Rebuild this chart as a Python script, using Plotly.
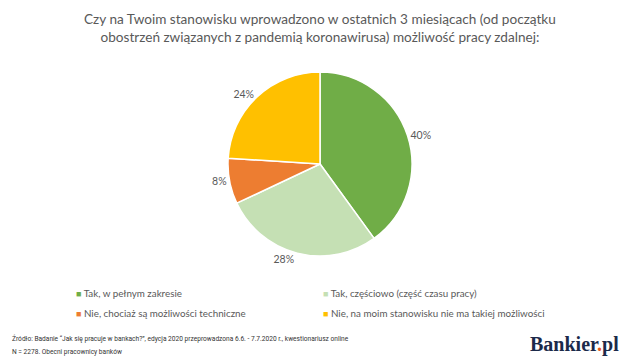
import plotly.graph_objects as go

categories = ["Tak, w pełnym zakresie", "Tak, częściowo (część czasu pracy)",
              "Nie, chociaż są możliwości techniczne", "Nie, na moim stanowisku nie ma takiej możliwości"]
values = [40, 28, 8, 24]
colors = ["#70AD47", "#C5E0B4", "#ED7D31", "#FFC000"]

title = ("Czy na Twoim stanowisku wprowadzono w ostatnich 3 miesiącach (od początku<br>"
         "obostrzeń związanych z pandemią koronawirusa) możliwość pracy zdalnej:")
source1 = "Źródło: Badanie “Jak się pracuje w bankach?”, edycja 2020 przeprowadzona 6.6. - 7.7.2020 r., kwestionariusz online"
source2 = "N = 2278. Obecni pracownicy banków"

W, H = 640, 361
cx, cy, r = 320, 164, 92

fig = go.Figure(go.Pie(
    labels=categories, values=values, sort=False, direction="clockwise", rotation=0,
    marker=dict(colors=colors, line=dict(color="white", width=1.5)),
    texttemplate="%{value}%", textposition="outside",
    textfont=dict(size=10.5, color="#595959", family="Lato"),
    domain=dict(x=[(cx - r) / W, (cx + r) / W], y=[(H - cy - r) / H, (H - cy + r) / H]),
    hoverinfo="label+percent", showlegend=False,
))

annotations = [
    dict(text=title, x=0.5, y=(H - 9) / H, xref="paper", yref="paper", xanchor="center",
         yanchor="top", showarrow=False, font=dict(size=13.6, color="#595959", family="Lato")),
    dict(text=source1, x=10 / W, y=(H - 338) / H, xref="paper", yref="paper", xanchor="left",
         yanchor="middle", showarrow=False, font=dict(size=6.6, color="#333333", family="Roboto")),
    dict(text=source2, x=10 / W, y=(H - 352) / H, xref="paper", yref="paper", xanchor="left",
         yanchor="middle", showarrow=False, font=dict(size=6.6, color="#333333", family="Roboto")),
    dict(text="<b>Bankier<span style='color:#E8591A'>.</span>pl</b>", x=621 / W, y=(H - 344) / H,
         xref="paper", yref="paper", xanchor="right", yanchor="middle", showarrow=False,
         font=dict(size=20, color="#1B2A4A", family="Liberation Serif")),
]

# legend (two columns) built from categories / colors
leg_x = [74, 321]
leg_y = [293, 313]
for i, (cat, col) in enumerate(zip(categories, colors)):
    px = leg_x[i % 2]
    py = leg_y[i // 2]
    annotations.append(dict(
        text=f"<span style='color:{col};font-size:9px'>■</span> {cat}",
        x=px / W, y=(H - py) / H, xref="paper", yref="paper", xanchor="left", yanchor="middle",
        showarrow=False, font=dict(size=9.8, color="#595959", family="Lato")))

fig.update_layout(
    width=W, height=H, margin=dict(l=0, r=0, t=0, b=0),
    paper_bgcolor="white", plot_bgcolor="white",
    font=dict(family="Lato", color="#595959"),
    showlegend=False,
    annotations=annotations,
)

fig.write_html("out.html", config={"displayModeBar": False},
               post_script="document.body.style.margin='0';document.body.style.overflow='hidden';")
